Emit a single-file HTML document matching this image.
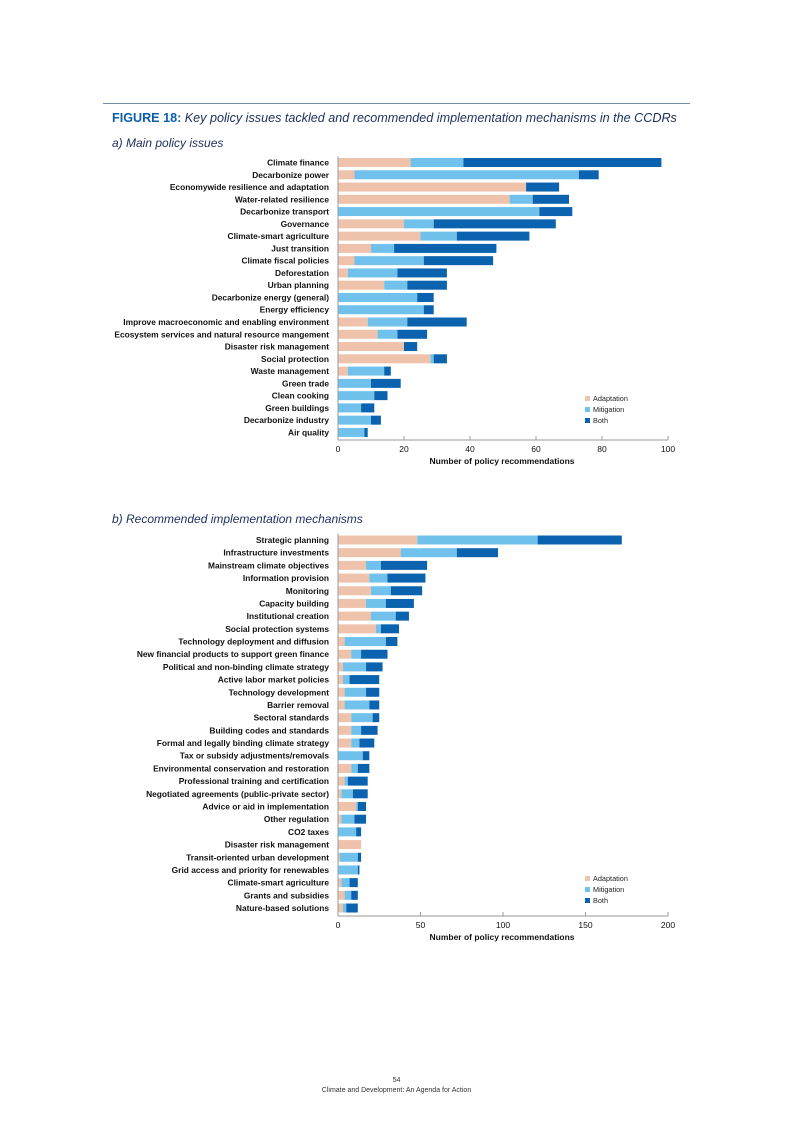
<!DOCTYPE html>
<html><head><meta charset="utf-8"><style>
body{margin:0;background:#fff;width:793px;height:1122px;overflow:hidden;font-family:"Liberation Sans",sans-serif}
svg text{font-family:"Liberation Sans",sans-serif}
</style></head><body>
<svg id="page" width="793" height="1122" viewBox="0 0 793 1122" xmlns="http://www.w3.org/2000/svg">
<line x1="103" y1="103.5" x2="690" y2="103.5" stroke="#6f8fa8" stroke-width="1"/>
<text x="112" y="122" font-size="12.6" fill="#1c2f5e"><tspan font-weight="bold" fill="#0b5fad">FIGURE 18:</tspan><tspan font-style="italic"> Key policy issues tackled and recommended implementation mechanisms in the CCDRs</tspan></text>
<text x="112" y="147" font-size="12" font-style="italic" fill="#1c2f5e">a) Main policy issues</text>
<text x="112" y="523" font-size="12" font-style="italic" fill="#1c2f5e">b) Recommended implementation mechanisms</text>
<g id="chartA"></g>
<g id="chartB"></g>
<text x="396.5" y="1082" font-size="7" text-anchor="middle" fill="#333">54</text>
<text x="396.5" y="1092" font-size="7" text-anchor="middle" fill="#333">Climate and Development: An Agenda for Action</text>
</svg>
<script>
const catsA=["Climate finance","Decarbonize power","Economywide resilience and adaptation","Water-related resilience","Decarbonize transport","Governance","Climate-smart agriculture","Just transition","Climate fiscal policies","Deforestation","Urban planning","Decarbonize energy (general)","Energy efficiency","Improve macroeconomic and enabling environment","Ecosystem services and natural resource mangement","Disaster risk management","Social protection","Waste management","Green trade","Clean cooking","Green buildings","Decarbonize industry","Air quality"];
const adaptA=[22,5,57,52,0,20,25,10,5,3,14,0,0,9,12,20,28,3,0,0,0,0,0];
const mitigA=[16,68,0,7,61,9,11,7,21,15,7,24,26,12,6,0,1,11,10,11,7,10,8];
const bothA=[60,6,10,11,10,37,22,31,21,15,12,5,3,18,9,4,4,2,9,4,4,3,1];
const ticksA=[0,20,40,60,80,100];
const catsB=["Strategic planning","Infrastructure investments","Mainstream climate objectives","Information provision","Monitoring","Capacity building","Institutional creation","Social protection systems","Technology deployment and diffusion","New financial products to support green finance","Political and non-binding climate strategy","Active labor market policies","Technology development","Barrier removal","Sectoral standards","Building codes and standards","Formal and legally binding climate strategy","Tax or subsidy adjustments/removals","Environmental conservation and restoration","Professional training and certification","Negotiated agreements (public-private sector)","Advice or aid in implementation","Other regulation","CO2 taxes","Disaster risk management","Transit-oriented urban development","Grid access and priority for renewables","Climate-smart agriculture","Grants and subsidies","Nature-based solutions"];
const adaptB=[48,38,17,19,20,17,20,23,4,8,3,3,4,4,8,8,8,0,8,4,2,11,2,0,14,1,0,2,4,3];
const mitigB=[73,34,9,11,12,12,15,3,25,6,14,4,13,15,13,6,5,15,4,2,7,1,8,11,0,11,12,5,4,2];
const bothB=[51,25,28,23,19,17,8,11,7,16,10,18,8,6,4,10,9,4,7,12,9,5,7,3,0,2,1,5,4,7];
const ticksB=[0,50,100,150,200];
const COL=["#efc3ab","#70c2ec","#0b62ae"],SER=["Adaptation","Mitigation","Both"];
const NS="http://www.w3.org/2000/svg";
function mk(p,t,a){const e=document.createElementNS(NS,t);for(const k in a)e.setAttribute(k,a[k]);p.appendChild(e);return e;}
function draw(g,cats,series,ticks,max,y0,step,axisY,legY){
  const x0=338,x1=668;const sx=v=>x0+(x1-x0)*v/max;const bh=9;
  cats.forEach((c,i)=>{
    const yc=y0+i*step;
    const t=mk(g,"text",{x:329,y:yc+3,"font-size":"8.4","font-weight":"bold","text-anchor":"end",fill:"#111"});
    t.textContent=c;
    
    
    let acc=0;
    series.forEach((s,k)=>{
      const v=s[i];if(v<=0)return;
      const r=mk(g,"rect",{x:sx(acc),y:yc-bh/2,width:sx(acc+v)-sx(acc),height:bh,fill:COL[k]});
      
      
      acc+=v;
    });
  });
  const ax=mk(g,"line",{x1:x0,y1:axisY,x2:x1,y2:axisY,stroke:"#999","stroke-width":1});
  
  
  const yl=mk(g,"line",{x1:x0,y1:y0-step/2,x2:x0,y2:axisY,stroke:"#999","stroke-width":1});
  
  
  ticks.forEach(tv=>{
    const x=sx(tv);
    const tk=mk(g,"line",{x1:x,y1:axisY,x2:x,y2:axisY-4,stroke:"#999"});
    
    
    const tl=mk(g,"text",{x:x,y:axisY+12,"font-size":"8.5","text-anchor":"middle",fill:"#111"});
    tl.textContent=tv;
    
    
  });
  const xt=mk(g,"text",{x:502,y:axisY+24,"font-size":"8.5","font-weight":"bold","text-anchor":"middle",fill:"#111"});
  xt.textContent="Number of policy recommendations";
  
  
  SER.forEach((s,k)=>{
    const r=mk(g,"rect",{x:585,y:legY+k*11-3,width:5,height:5,fill:COL[k]});
    
    
    const t=mk(g,"text",{x:593,y:legY+k*11+2,"font-size":"7.3","fill":"#222"});
    t.textContent=s;
    
    
  });
}
draw(document.getElementById("chartA"),catsA,[adaptA,mitigA,bothA],ticksA,100,162.5,12.27,440,399);
draw(document.getElementById("chartB"),catsB,[adaptB,mitigB,bothB],ticksB,200,540,12.69,916,879);
</script>
</body></html>
